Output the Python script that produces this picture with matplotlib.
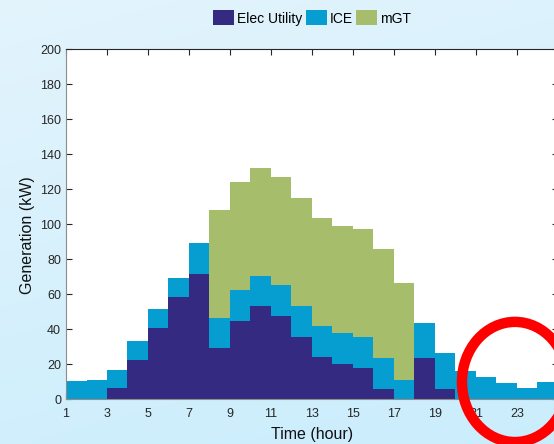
import numpy as np
import matplotlib
matplotlib.use('Agg')
import matplotlib.pyplot as plt
from matplotlib.patches import Ellipse

plt.rcParams['font.family'] = ['Liberation Sans', 'DejaVu Sans']

# hourly generation mix (kW)
hours = np.arange(1, 25)
elec_utility = [0, 0, 6.3, 22.6, 40.6, 58.6, 71.4, 29.1, 44.9, 53.0, 47.8, 35.8,
                24.4, 20.4, 18.1, 5.7, 0, 23.4, 6.1, 0, 0, 0, 0, 0]
ice = [10.4, 11.0, 10.7, 10.7, 10.8, 10.5, 17.7, 17.5, 17.6, 17.6, 17.5, 17.7,
       17.7, 17.5, 17.5, 18.1, 11.0, 20.0, 20.2, 16.4, 12.6, 9.1, 6.3, 10.1]
mgt = [0, 0, 0, 0, 0, 0, 0, 61.6, 61.5, 61.4, 61.6, 61.4,
       61.3, 61.3, 61.5, 61.9, 55.3, 0, 0, 0, 0, 0, 0, 0]
labels = ['Elec Utility', 'ICE', 'mGT']
colors = ['#352a82', '#069dd0', '#a6be6b']
xtick_vals = list(range(1, 24, 2))
ytick_vals = list(range(0, 201, 20))

fig = plt.figure(figsize=(5.54, 4.44), dpi=100)

# light blue gradient behind everything
bg = fig.add_axes([0, 0, 1, 1], zorder=-10)
yy, xx = np.mgrid[0:1:200j, 0:1:200j]
t = 0.75 * yy + 0.25 * xx
c0 = np.array([0xe3, 0xf4, 0xfc]) / 255.0
c1 = np.array([0xca, 0xed, 0xfc]) / 255.0
grad = c0[None, None, :] * (1 - t[..., None]) + c1[None, None, :] * t[..., None]
bg.imshow(grad, aspect='auto', extent=[0, 1, 0, 1], origin='upper')
bg.axis('off')

ax = fig.add_axes([66 / 554, 44.7 / 444, 492 / 554, 350.3 / 444])
ax.set_facecolor('white')

bottom = np.zeros(len(hours))
handles = []
for vals, lab, col in zip([elec_utility, ice, mgt], labels, colors):
    vals = np.array(vals, dtype=float)
    h = ax.bar(hours, vals, width=1.0, align='edge', bottom=bottom,
               color=col, edgecolor='none', linewidth=0, label=lab)
    handles.append(h)
    bottom = bottom + vals

ax.set_xlim(1, 25)
ax.set_ylim(0, 200)
ax.set_xticks(xtick_vals)
ax.set_yticks(ytick_vals)
ax.set_axisbelow(True)
ax.tick_params(direction='in', top=True, right=True, length=4.5, width=0.8,
               labelsize=9, colors='#262626', pad=3.5)
ax.tick_params(axis='x', pad=6)

for side in ['left', 'bottom']:
    ax.spines[side].set_color('#8c8c8c')
    ax.spines[side].set_linewidth(0.8)
for side in ['top', 'right']:
    ax.spines[side].set_color('#262626')
    ax.spines[side].set_linewidth(0.8)

ax.set_xlabel('Time (hour)', fontsize=11.5, color='#111111', labelpad=5)
ax.set_ylabel('Generation (kW)', fontsize=11.5, color='#111111')
ax.yaxis.set_label_coords(-0.062, 0.47)

fig.legend(handles=handles, labels=labels, loc='center',
           bbox_to_anchor=(312 / 554, 1 - 18 / 444), ncol=3, frameon=False,
           fontsize=10, handlelength=1.5, handleheight=1.25,
           handletextpad=0.2, columnspacing=0.25, borderaxespad=0)

# red ring highlighting the late evening hours
ring = Ellipse((22.9, 9.9), 5.17, 68.6, fill=False, edgecolor='#ff0000',
               linewidth=7.5, clip_on=False, zorder=10)
ax.add_patch(ring)

fig.savefig('out.png', dpi=100)
